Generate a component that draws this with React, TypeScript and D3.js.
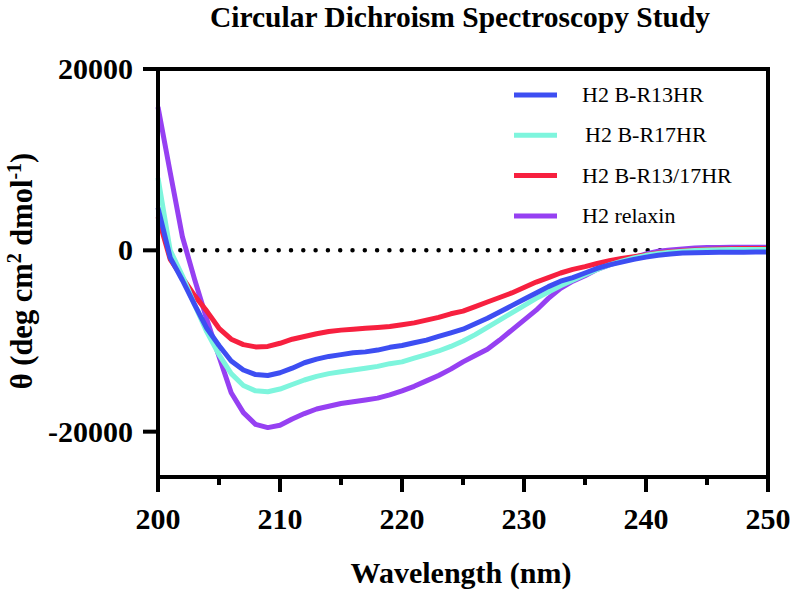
import React from "react";
import * as d3 from "d3";

// wavelength grid (nm), 1 nm steps
const wavelengths = d3.range(200, 251);

// mean residue ellipticity, one value per nm
const r13hr = [
  4700, -800, -3300, -6000, -8600, -10500, -12200, -13200, -13700, -13800,
  -13500, -13000, -12400, -12000, -11700, -11500, -11300, -11200, -11000, -10700,
  -10500, -10200, -9900, -9500, -9100, -8700, -8100, -7500, -6800, -6100,
  -5400, -4700, -4000, -3400, -3000, -2500, -2000, -1600, -1300, -1000,
  -750, -550, -400, -300, -260, -230, -210, -200, -200, -190, -190,
];
const r17hr = [
  8000, 0, -2800, -6000, -9000, -11500, -13600, -14900, -15500, -15600,
  -15300, -14800, -14300, -13900, -13600, -13400, -13200, -13000, -12800, -12500,
  -12300, -11900, -11500, -11100, -10600, -10000, -9300, -8500, -7700, -6900,
  -6100, -5300, -4600, -3900, -3300, -2700, -2100, -1600, -1200, -850,
  -550, -350, -200, -100, -20, 30, 60, 80, 90, 100, 100,
];
const r1317hr = [
  3700, -1000, -3000, -5000, -6700, -8600, -9800, -10400, -10650, -10600,
  -10250, -9800, -9500, -9200, -8950, -8800, -8700, -8600, -8500, -8400,
  -8200, -8000, -7700, -7400, -7000, -6700, -6200, -5700, -5200, -4700,
  -4100, -3500, -3000, -2500, -2100, -1800, -1450, -1150, -900, -700,
  -500, -300, -150, -50, 50, 100, 150, 180, 200, 200, 200,
];
const relaxin = [
  15800, 8600, 1500, -3200, -7600, -11700, -15700, -17900, -19200, -19550,
  -19300, -18600, -18000, -17500, -17200, -16900, -16700, -16500, -16300, -15950,
  -15500, -15000, -14400, -13800, -13100, -12300, -11600, -10900, -9900, -8800,
  -7700, -6600, -5300, -4200, -3400, -2800, -2100, -1600, -1100, -800,
  -400, -100, 50, 150, 250, 300, 320, 330, 330, 330, 330,
];

const seriesNames = ["H2 B-R13HR", "H2 B-R17HR", "H2 B-R13/17HR", "H2 relaxin"];
const seriesValues = [r13hr, r17hr, r1317hr, relaxin];
const seriesColors = ["#3d4ef2", "#7ef5dd", "#f7203f", "#9640f2"];
// drawing order: relaxin at the back, R13HR on top
const drawOrder = [3, 2, 1, 0];

const xTicks = [200, 210, 220, 230, 240, 250];
const xMinorTicks = [205, 215, 225, 235, 245];
const yTicks = [20000, 0, -20000];

const serif = "'Liberation Serif', 'Times New Roman', Times, serif";

export default function App() {
  const width = 790;
  const height = 590;
  const left = 158, right = 768, top = 69, bottom = 477;

  const x = d3.scaleLinear().domain([200, 250]).range([left, right]);
  const y = d3.scaleLinear().domain([-25000, 20000]).range([bottom, top]);

  const line = d3
    .line<[number, number]>()
    .x((d) => x(d[0]))
    .y((d) => y(d[1]));

  return (
    <svg
      width={width}
      height={height}
      style={{ position: "absolute", left: 0, top: 0, background: "#fff" }}
      fontFamily={serif}
    >
      {/* title */}
      <text x={460} y={27} textAnchor="middle" fontSize={29.5} fontWeight="bold">
        Circular Dichroism Spectroscopy Study
      </text>

      {/* zero line */}
      <line
        x1={x(200) + 10}
        x2={x(250)}
        y1={y(0)}
        y2={y(0)}
        stroke="#000"
        strokeWidth={4.5}
        strokeLinecap="round"
        strokeDasharray="0 12.3"
      />

      {/* curves */}
      {drawOrder.map((i) => (
        <path
          key={seriesNames[i]}
          d={line(wavelengths.map((w, k) => [w, seriesValues[i][k]]) as [number, number][]) || ""}
          fill="none"
          stroke={seriesColors[i]}
          strokeWidth={5}
          strokeLinejoin="round"
        />
      ))}

      {/* frame */}
      <line x1={left} x2={right} y1={top} y2={top} stroke="#000" strokeWidth={4} />
      <line x1={right} x2={right} y1={top - 2} y2={bottom + 15} stroke="#000" strokeWidth={4} />
      <line x1={left} x2={left} y1={top - 2} y2={bottom + 15} stroke="#000" strokeWidth={4} />
      <line x1={left - 2} x2={right + 2} y1={bottom} y2={bottom} stroke="#000" strokeWidth={4} />

      {/* x axis ticks */}
      {xTicks.map((t) => (
        <g key={"x" + t}>
          <line x1={x(t)} x2={x(t)} y1={bottom} y2={bottom + 15} stroke="#000" strokeWidth={4} />
          <text x={x(t)} y={529} textAnchor="middle" fontSize={30} fontWeight="bold">
            {t}
          </text>
        </g>
      ))}
      {xMinorTicks.map((t) => (
        <line key={"xm" + t} x1={x(t)} x2={x(t)} y1={bottom} y2={bottom + 8} stroke="#000" strokeWidth={4} />
      ))}

      {/* y axis ticks */}
      {yTicks.map((t) => (
        <g key={"y" + t}>
          <line x1={left - 15} x2={left} y1={y(t)} y2={y(t)} stroke="#000" strokeWidth={4} />
          <text x={133} y={y(t) + 10} textAnchor="end" fontSize={30} fontWeight="bold">
            {t}
          </text>
        </g>
      ))}

      {/* axis titles */}
      <text x={461} y={583} textAnchor="middle" fontSize={30} fontWeight="bold">
        Wavelength (nm)
      </text>
      <text
        transform="translate(32,271) rotate(-90)"
        textAnchor="middle"
        fontSize={30.5}
        fontWeight="bold"
      >
        θ (deg cm<tspan dy={-11} fontSize={20}>2</tspan>
        <tspan dy={11}> dmol</tspan>
        <tspan dy={-11} fontSize={20}>-1</tspan>
        <tspan dy={11}>)</tspan>
      </text>

      {/* legend */}
      {seriesNames.map((name, i) => {
        const ly = 95 + i * 40.3;
        return (
          <g key={name}>
            <line x1={514} x2={557} y1={ly} y2={ly} stroke={seriesColors[i]} strokeWidth={5} />
            <text x={i === 1 ? 585 : 582} y={ly + 7} fontSize={22}>
              {name}
            </text>
          </g>
        );
      })}
    </svg>
  );
}
